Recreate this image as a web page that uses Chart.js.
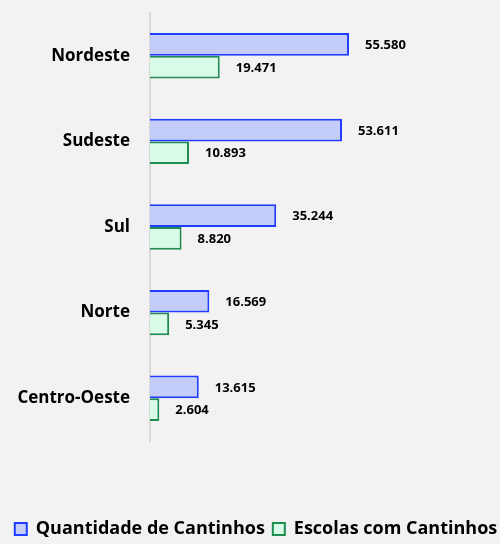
<!DOCTYPE html>
<html>
<head>
<meta charset="utf-8">
<script src="https://cdn.jsdelivr.net/npm/chart.js@4"></script>
<style>
  html, body { margin: 0; padding: 0; background: #f2f2f2; }
  #wrap { width: 500px; height: 544px; }
</style>
</head>
<body>
<div id="wrap"><canvas id="chart" width="500" height="544"></canvas></div>
<script>
// dados por região
const regioes = ['Nordeste', 'Sudeste', 'Sul', 'Norte', 'Centro-Oeste'];
const quantidadeCantinhos = [55580, 53611, 35244, 16569, 13615];
const escolasComCantinhos = [19471, 10893, 8820, 5345, 2604];

const FONTE = '"Open Sans", "Liberation Sans", sans-serif';

// formata 55580 -> 55.580
function fmt(v) {
    return v.toString().replace(/\B(?=(\d{3})+(?!\d))/g, '.');
}

// rótulos de valor à direita de cada barra
const rotulosBarras = {
    id: 'rotulosBarras',
    afterDatasetsDraw(chart) {
        const ctx = chart.ctx;
        ctx.save();
        ctx.font = 'bold 13px ' + FONTE;
        ctx.fillStyle = '#000';
        ctx.textAlign = 'left';
        ctx.textBaseline = 'middle';
        chart.data.datasets.forEach((ds, i) => {
            chart.getDatasetMeta(i).data.forEach((el, j) => {
                ctx.fillText(fmt(ds.data[j]), el.x + 16, el.y + 1);
            });
        });
        ctx.restore();
    }
};

// desloca a legenda um pouco para a direita (como no original)
const legendaDeslocada = {
    id: 'legendaDeslocada',
    afterInit(chart) {
        const legend = chart.legend;
        if (!legend) return;
        const drawOrig = legend.draw.bind(legend);
        legend.draw = function () {
            const ctx = chart.ctx;
            ctx.save();
            ctx.translate(6, 0);
            drawOrig();
            ctx.restore();
        };
    }
};

new Chart(document.getElementById('chart').getContext('2d'), {
    type: 'bar',
    data: {
        labels: regioes,
        datasets: [{
            label: 'Quantidade de Cantinhos',
            data: quantidadeCantinhos,
            backgroundColor: '#c4ccfa',
            borderColor: '#1f3cff',
            borderWidth: 2,
            categoryPercentage: 0.53,
            barPercentage: 1
        }, {
            label: 'Escolas com Cantinhos',
            data: escolasComCantinhos,
            backgroundColor: '#d8fbe8',
            borderColor: '#1f8c50',
            borderWidth: 2,
            categoryPercentage: 0.53,
            barPercentage: 1
        }]
    },
    options: {
        indexAxis: 'y',
        responsive: false,
        animation: false,
        layout: { padding: { top: 13, right: 0, bottom: -4, left: 0 } },
        scales: {
            x: {
                min: 0,
                max: 97740,
                grid: { display: false, drawTicks: false },
                border: { display: false },
                ticks: { display: false },
                afterFit(s) { s.height = 71; }
            },
            y: {
                grid: { display: false, drawTicks: false },
                border: { display: true, color: '#d9d9d9', width: 2 },
                ticks: {
                    padding: 20,
                    color: '#000',
                    font: { family: FONTE, size: 17, weight: 'bold' }
                },
                afterFit(s) {
                    s.width = 150;
                    s.paddingTop = 0;
                    s.paddingBottom = 0;
                }
            }
        },
        plugins: {
            legend: {
                position: 'bottom',
                labels: {
                    color: '#000',
                    boxWidth: 12,
                    boxHeight: 12,
                    padding: 8,
                    font: { family: FONTE, size: 18, weight: 'bold' }
                }
            },
            tooltip: { enabled: false }
        }
    },
    plugins: [rotulosBarras, legendaDeslocada]
});
</script>
</body>
</html>
